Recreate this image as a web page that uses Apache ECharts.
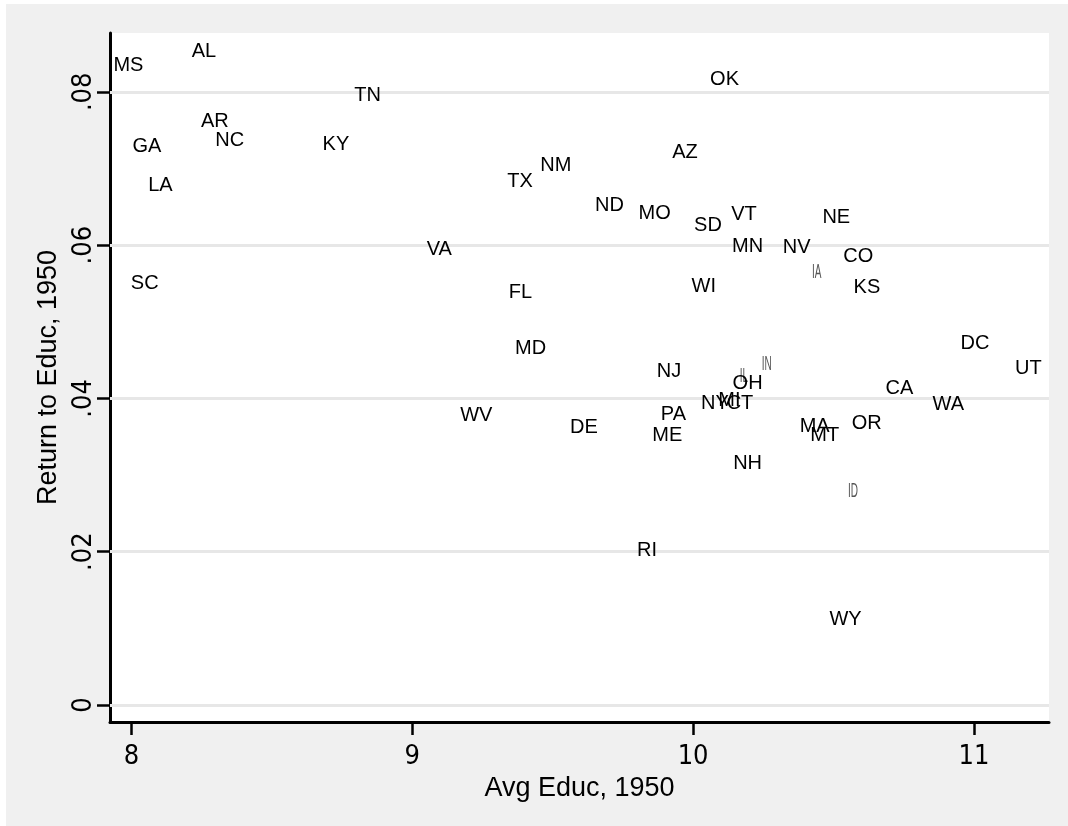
<!DOCTYPE html>
<html>
<head>
<meta charset="utf-8">
<script src="https://cdn.jsdelivr.net/npm/echarts@6/dist/echarts.min.js"></script>
<style>
html, body { margin: 0; padding: 0; background: #ffffff; }
#chart { position: absolute; left: 6px; top: 4px; width: 1062px; height: 822px; }
</style>
</head>
<body>
<div id="chart"></div>
<script>
// ---- data ----
var STATES = ['MS','AL','TN','AR','NC','GA','KY','LA','SC','OK','AZ','NM','TX','ND','MO','SD','VT','NE','MN','NV','VA','CO','IA','KS','WI','FL','MD','DC','UT','NJ','IN','IL','OH','CA','WA','NY','MI','CT','PA','WV','DE','ME','MA','MT','OR','NH','ID','RI','WY'];
var AVG_EDUC = [7.989,8.258,8.841,8.297,8.350,8.055,8.728,8.103,8.047,10.112,9.971,9.511,9.384,9.702,9.863,10.053,10.181,10.510,10.194,10.369,9.096,10.588,10.440,10.619,10.038,9.385,9.421,11.004,11.194,9.914,10.262,10.181,10.194,10.735,10.909,10.078,10.129,10.167,9.930,9.228,9.611,9.908,10.433,10.469,10.618,10.194,10.569,9.836,10.543];
var RETURN_EDUC = [0.08343,0.08528,0.07949,0.07615,0.07371,0.07280,0.07315,0.06784,0.05501,0.08160,0.07214,0.07045,0.06836,0.06523,0.06415,0.06253,0.06397,0.06364,0.05986,0.05969,0.05949,0.05855,0.05638,0.05451,0.05457,0.05384,0.04657,0.04712,0.04388,0.04357,0.04440,0.04292,0.04197,0.04123,0.03914,0.03929,0.03979,0.03929,0.03787,0.03783,0.03614,0.03514,0.03631,0.03514,0.03668,0.03153,0.02779,0.02016,0.01109];
var X_TICKS = [8, 9, 10, 11];
var Y_TICKS = [0, 0.02, 0.04, 0.06, 0.08];
var Y_TICK_LABELS = ['0', '.02', '.04', '.06', '.08'];
var NARROW = ['IA', 'IL', 'IN', 'ID'];

var points = STATES.map(function (s, i) { return [AVG_EDUC[i], RETURN_EDUC[i]]; });

function yLabel(v) {
  for (var i = 0; i < Y_TICKS.length; i++) {
    if (Math.abs(v - Y_TICKS[i]) < 1e-9) return Y_TICK_LABELS[i];
  }
  return '';
}

var chart = echarts.init(document.getElementById('chart'), null, { renderer: 'canvas' });
chart.setOption({
  backgroundColor: '#f0f0f0',
  animation: false,
  grid: { left: 104, top: 29, right: 19, bottom: 104, show: true, backgroundColor: '#ffffff', borderWidth: 0 },
  xAxis: {
    type: 'value', min: 7.9234, max: 11.2674,
    name: 'Avg Educ, 1950', nameLocation: 'middle', nameGap: 45,
    nameTextStyle: { fontFamily: 'Liberation Sans', fontSize: 27, color: '#000' },
    axisLine: { show: true, onZero: false, lineStyle: { color: '#000', width: 3 } },
    axisTick: { show: true, customValues: X_TICKS, length: 13, lineStyle: { color: '#000', width: 2.5 } },
    axisLabel: { customValues: X_TICKS, margin: 21, fontFamily: '"Liberation Sans Narrow", "DejaVu Sans Condensed", sans-serif', fontSize: 27, color: '#000' },
    splitLine: { show: false }
  },
  yAxis: {
    type: 'value', min: -0.00222, max: 0.08767,
    name: 'Return to Educ, 1950', nameLocation: 'middle', nameGap: 42, nameRotate: 90,
    nameTextStyle: { fontFamily: 'Liberation Sans', fontSize: 27, color: '#000' },
    axisLine: { show: true, onZero: false, lineStyle: { color: '#000', width: 3 } },
    axisTick: { show: true, customValues: Y_TICKS, length: 13, lineStyle: { color: '#000', width: 2.5 } },
    axisLabel: { customValues: Y_TICKS, rotate: 90, margin: 13, formatter: yLabel, fontFamily: '"Liberation Sans Narrow", "DejaVu Sans Condensed", sans-serif', fontSize: 27, color: '#000' },
    splitLine: { show: false }
  },
  series: [
    {
      type: 'scatter', data: points, symbolSize: 0, silent: true, z: 1,
      itemStyle: { opacity: 0 },
      markLine: {
        silent: true, symbol: ['none', 'none'], animation: false, z: 1,
        label: { show: false },
        lineStyle: { color: '#e7e7e7', width: 3, type: 'solid' },
        data: Y_TICKS.map(function (v) { return { yAxis: v }; })
      }
    },
    {
      type: 'custom', data: points, z: 10, silent: true,
      encode: { x: 0, y: 1 },
      renderItem: function (params, api) {
        var p = api.coord([api.value(0), api.value(1)]);
        var name = STATES[params.dataIndex];
        var narrow = NARROW.indexOf(name) >= 0;
        return {
          type: 'text', x: p[0], y: p[1], scaleX: narrow ? 0.5 : 1,
          style: {
            text: name, x: 0, y: 0,
            fill: narrow ? '#555' : '#000',
            fontFamily: 'Liberation Sans', fontSize: 20,
            align: 'center', verticalAlign: 'middle'
          }
        };
      }
    }
  ]
});
</script>
</body>
</html>
